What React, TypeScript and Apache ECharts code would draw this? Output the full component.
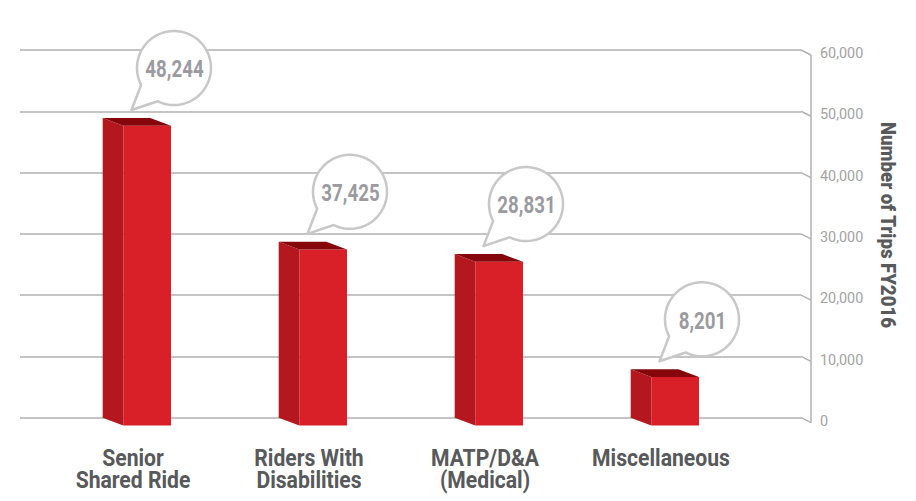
import React, { useEffect, useRef } from "react";
import * as echarts from "echarts";

const categories = ["Senior\nShared Ride", "Riders With\nDisabilities", "MATP/D&A\n(Medical)", "Miscellaneous"];
const barValues = [48900, 28700, 26700, 7900];
const labelValues = [48244, 37425, 28831, 8201];
const yTicks = [0, 10000, 20000, 30000, 40000, 50000, 60000];
const axisName = "Number of Trips FY2016";

const FONT = "Roboto, 'Liberation Sans', sans-serif";
const GRID_C = "#b0b0b0";

export default function App() {
  const ref = useRef<HTMLDivElement>(null);
  useEffect(() => {
    const chart = echarts.init(ref.current!, null, { renderer: "svg" });
    const fmt = (v: number) => v.toLocaleString("en-US");
    const option: any = {
      animation: false,
      backgroundColor: "#ffffff",
      grid: [
        { left: 20, top: 50, width: 781, height: 367.7 },
        { left: 49, top: 50, width: 704, height: 367.7 },
      ],
      xAxis: [
        { type: "value", gridIndex: 0, min: 0, max: 1, show: false },
        {
          type: "category",
          gridIndex: 1,
          data: categories,
          axisLine: { show: false },
          axisTick: { show: false },
          axisLabel: { show: false },
        },
      ],
      yAxis: [
        {
          type: "value",
          gridIndex: 0,
          position: "right",
          min: 0,
          max: 60000,
          interval: 10000,
          axisLine: { show: false },
          axisTick: { show: false },
          axisLabel: { show: false },
          splitLine: { show: true, lineStyle: { color: GRID_C, width: 1.5 } },
        },
        { type: "value", gridIndex: 1, min: 0, max: 60000, interval: 10000, show: false },
      ],
      graphic: [
        {
          type: "text",
          x: 887.7,
          y: 225,
          rotation: -Math.PI / 2,
          scaleX: 0.93,
          style: {
            text: axisName,
            fontFamily: FONT,
            fontWeight: 900,
            fontSize: 20,
            fill: "#58595b",
            align: "center",
            verticalAlign: "middle",
          },
        },
      ],
      series: [
        {
          type: "custom",
          xAxisIndex: 0,
          yAxisIndex: 0,
          clip: false,
          data: yTicks.map((v) => [1, v]),
          renderItem: (params: any, api: any) => {
            const p = api.coord([1, api.value(1)]);
            return {
              type: "group",
              children: [
                {
                  type: "line",
                  shape: { x1: p[0], y1: p[1], x2: p[0] + 10, y2: p[1] + 5 },
                  style: { stroke: GRID_C, lineWidth: 1.5 },
                },
                {
                  type: "text",
                  x: p[0] + 19,
                  y: p[1] + 3,
                  scaleX: 0.93,
                  style: {
                    text: fmt(api.value(1)),
                    fontFamily: FONT,
                    fontSize: 15.5,
                    fill: "#a3a3a3",
                    align: "left",
                    verticalAlign: "middle",
                  },
                },
              ],
            };
          },
        },
        {
          type: "custom",
          xAxisIndex: 0,
          yAxisIndex: 0,
          clip: false,
          data: [[1, yTicks[0], yTicks[yTicks.length - 1]]],
          renderItem: (params: any, api: any) => {
            const a = api.coord([1, api.value(1)]);
            const b = api.coord([1, api.value(2)]);
            return {
              type: "line",
              shape: { x1: a[0] + 10, y1: a[1] + 5, x2: b[0] + 10, y2: b[1] + 5 },
              style: { stroke: GRID_C, lineWidth: 1.5 },
            };
          },
        },
        {
          type: "custom",
          xAxisIndex: 1,
          yAxisIndex: 1,
          clip: false,
          data: categories.map((c, i) => [i, 0]),
          renderItem: (params: any, api: any) => {
            const i = api.value(0);
            const p = api.coord([i, 0]);
            return {
              type: "text",
              x: p[0] - 4,
              y: p[1] + 29.5,
              scaleX: 0.9,
              style: {
                text: categories[i],
                fontFamily: FONT,
                fontWeight: "bold",
                fontSize: 23.5,
                lineHeight: 21.5,
                fill: "#58595b",
                align: "center",
                verticalAlign: "top",
              },
            };
          },
        },
        {
          type: "custom",
          xAxisIndex: 1,
          yAxisIndex: 1,
          clip: false,
          data: barValues.map((v, i) => [i, v, labelValues[i]]),
          renderItem: (params: any, api: any) => {
            const i = api.value(0);
            const v = api.value(1);
            const lab = api.value(2);
            const top = api.coord([i, v]);
            const base = api.coord([i, 0]);
            const cx = top[0];
            const bl = cx - 34.3,
              fl = cx - 13.7,
              fr = cx + 34,
              br = cx + 13.3;
            const dy = 7.7;
            const yb = top[1],
              yf = top[1] + dy,
              bb = base[1],
              fb = base[1] + dy;
            const tip = [cx - 5.5, yb - 8];
            const c = [tip[0] + 42.5, tip[1] - 42];
            const r = 37;
            const a1 = (152.7 * Math.PI) / 180;
            const a2 = ((116.2 + 360) * Math.PI) / 180;
            const pts: number[][] = [];
            const n = 90;
            for (let k = 0; k <= n; k++) {
              const a = a1 + ((a2 - a1) * k) / n;
              pts.push([c[0] + r * Math.cos(a), c[1] + r * Math.sin(a)]);
            }
            pts.push(tip);
            return {
              type: "group",
              children: [
                {
                  type: "polygon",
                  shape: { points: [[bl, yb], [fl, yf], [fl, fb], [bl, bb]] },
                  style: { fill: "#b4171d" },
                },
                {
                  type: "polygon",
                  shape: { points: [[fl, yf], [fr, yf], [fr, fb], [fl, fb]] },
                  style: { fill: "#d91f27" },
                },
                {
                  type: "polygon",
                  shape: { points: [[bl, yb], [br, yb], [fr, yf], [fl, yf]] },
                  style: { fill: "#85070b" },
                },
                {
                  type: "polygon",
                  shape: { points: pts },
                  style: { fill: "#ffffff", stroke: "#c8c8c8", lineWidth: 2.5, lineJoin: "round" },
                },
                {
                  type: "text",
                  x: c[0] + 0.5,
                  y: c[1] + 1,
                  scaleX: 0.765,
                  style: {
                    text: fmt(lab),
                    fontFamily: FONT,
                    fontWeight: "bold",
                    fontSize: 24.5,
                    fill: "#9b9b9f",
                    align: "center",
                    verticalAlign: "middle",
                  },
                },
              ],
            };
          },
        },
      ],
    };
    chart.setOption(option);
    return () => chart.dispose();
  }, []);
  return (
    <div
      ref={ref}
      style={{ position: "fixed", left: 0, top: 0, width: 916, height: 501, background: "#fff" }}
    />
  );
}
